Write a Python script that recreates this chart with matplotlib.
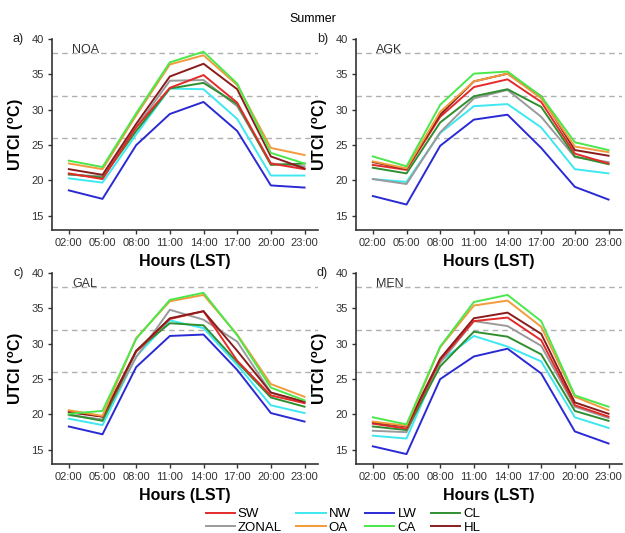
import numpy as np
import matplotlib
matplotlib.use('Agg')
import matplotlib.pyplot as plt
from matplotlib.lines import Line2D

plt.rcParams['font.family'] = ['Liberation Sans', 'DejaVu Sans']
plt.rcParams['mathtext.default'] = 'regular'

hours = ['02:00', '05:00', '08:00', '11:00', '14:00', '17:00', '20:00', '23:00']
classes = ['SW', 'NW', 'LW', 'CL', 'ZONAL', 'OA', 'CA', 'HL']
colors = {'SW': '#e52a2a', 'NW': '#3ee8f0', 'LW': '#2a2ad4', 'CL': '#2f8f2f',
          'ZONAL': '#9a9a9a', 'OA': '#f39a3c', 'CA': '#4ae84a', 'HL': '#8b1c1c'}

# UTCI values, one dict per station
noa = {
    'SW':    [21.0, 20.2, 27.5, 33.1, 34.9, 31.0, 22.4, 21.6],
    'NW':    [20.3, 19.7, 26.5, 33.0, 32.9, 28.7, 20.7, 20.7],
    'LW':    [18.6, 17.4, 25.0, 29.4, 31.1, 27.0, 19.3, 19.0],
    'CL':    [20.9, 20.4, 27.0, 33.0, 33.8, 30.8, 22.2, 22.4],
    'ZONAL': [20.8, 20.6, 27.5, 34.1, 34.2, 30.5, 22.4, 22.0],
    'OA':    [22.4, 21.6, 29.2, 36.4, 37.7, 33.5, 24.6, 23.6],
    'CA':    [22.8, 21.9, 29.5, 36.7, 38.2, 33.7, 23.9, 22.4],
    'HL':    [21.6, 20.8, 28.0, 34.7, 36.5, 32.9, 23.4, 21.7],
}
agk = {
    'SW':    [22.2, 21.5, 29.0, 33.2, 34.3, 31.1, 23.8, 22.4],
    'NW':    [20.2, 19.8, 26.7, 30.5, 30.8, 27.5, 21.6, 21.0],
    'LW':    [17.8, 16.6, 24.9, 28.6, 29.3, 24.6, 19.1, 17.3],
    'CL':    [21.8, 21.0, 28.2, 31.9, 32.9, 30.4, 23.4, 22.3],
    'ZONAL': [20.2, 19.5, 26.8, 31.6, 32.8, 29.0, 23.3, 22.6],
    'OA':    [22.7, 21.7, 29.7, 34.0, 35.1, 31.6, 24.8, 24.0],
    'CA':    [23.4, 22.0, 30.7, 35.1, 35.4, 31.9, 25.4, 24.3],
    'HL':    [22.6, 21.6, 29.3, 34.0, 35.1, 31.9, 24.3, 23.5],
}
gal = {
    'SW':    [20.5, 19.7, 28.9, 33.5, 34.6, 27.6, 22.7, 21.6],
    'NW':    [19.4, 18.5, 28.2, 33.3, 32.2, 27.0, 21.3, 20.2],
    'LW':    [18.3, 17.2, 26.7, 31.1, 31.3, 26.3, 20.2, 19.0],
    'CL':    [20.0, 19.1, 29.0, 32.9, 32.6, 27.4, 22.4, 21.1],
    'ZONAL': [19.9, 19.3, 28.1, 34.8, 33.4, 30.3, 23.1, 21.7],
    'OA':    [20.6, 19.8, 30.8, 36.0, 36.9, 31.3, 24.3, 22.5],
    'CA':    [20.1, 20.5, 30.7, 36.2, 37.2, 31.2, 23.8, 22.0],
    'HL':    [20.3, 19.7, 29.0, 33.6, 34.6, 29.0, 23.1, 21.8],
}
men = {
    'SW':    [18.7, 18.0, 27.7, 33.2, 33.7, 30.5, 21.3, 19.7],
    'NW':    [17.0, 16.6, 27.5, 31.1, 29.6, 27.5, 19.6, 18.1],
    'LW':    [15.5, 14.4, 25.0, 28.2, 29.3, 25.8, 17.6, 15.9],
    'CL':    [18.3, 17.8, 26.8, 31.7, 31.0, 28.5, 20.5, 19.1],
    'ZONAL': [17.7, 17.5, 27.3, 33.2, 32.5, 29.7, 21.1, 19.5],
    'OA':    [19.0, 18.4, 29.5, 35.4, 36.1, 32.4, 22.5, 20.6],
    'CA':    [19.6, 18.6, 29.6, 35.9, 36.9, 33.2, 22.7, 21.1],
    'HL':    [18.9, 18.3, 27.9, 33.6, 34.4, 31.4, 21.7, 20.1],
}
stations = ['NOA', 'AGK', 'GAL', 'MEN']
panel_tags = ['a)', 'b)', 'c)', 'd)']
all_data = [noa, agk, gal, men]
thresholds = [26, 32, 38]

# draw order (back to front)
draw_order = ['LW', 'NW', 'ZONAL', 'CL', 'SW', 'HL', 'OA', 'CA']

fig = plt.figure(figsize=(6.25, 5.33), dpi=100)
W, H = 625.0, 533.0
boxes = [(52, 39), (356, 39), (52, 273), (356, 273)]  # left, top in px
aw, ah = 266, 191

x = np.arange(len(hours))
for (lpx, tpx), name, tag, data in zip(boxes, stations, panel_tags, all_data):
    ax = fig.add_axes([lpx / W, 1 - (tpx + ah) / H, aw / W, ah / H])
    for t in thresholds:
        ax.axhline(t, color='#b0b0b0', ls=(0, (4, 3)), lw=1.0, zorder=1)
    for c in draw_order:
        ax.plot(x, data[c], color=colors[c], lw=1.4, zorder=2)
    ax.set_xlim(-0.5, 7.4)
    ax.set_ylim(13, 40)
    ax.set_yticks([15, 20, 25, 30, 35, 40])
    ax.set_xticks(x)
    ax.set_xticklabels(hours)
    for s in ['top', 'right']:
        ax.spines[s].set_visible(False)
    for s in ['left', 'bottom']:
        ax.spines[s].set_color('#333333')
        ax.spines[s].set_linewidth(1.2)
    ax.tick_params(labelsize=8, colors='#333333', length=3, width=1, pad=3)
    ax.set_xlabel('Hours (LST)', fontsize=11.5, fontweight='bold', labelpad=4)
    ax.set_ylabel('UTCI ($^{o}$C)', fontsize=11.5, fontweight='bold', labelpad=4)
    ax.text(0.075, 0.975, name, transform=ax.transAxes, fontsize=9, color='#333333',
            va='top', ha='left')
    ax.text(-0.105, 1.0, tag, transform=ax.transAxes, fontsize=9, color='#222222',
            va='center', ha='right')

fig.text(313 / W, 1 - 19 / H, 'Summer', ha='center', va='center', fontsize=9)

leg_order = ['SW', 'ZONAL', 'NW', 'OA', 'LW', 'CA', 'CL', 'HL']
handles = [Line2D([0], [0], color=colors[c], lw=1.4) for c in leg_order]
fig.legend(handles, leg_order, ncol=4, loc='center', bbox_to_anchor=(343 / W, 1 - 521 / H),
           frameon=False, fontsize=9.5, handlelength=2.2, handletextpad=0.25,
           columnspacing=1.1, labelspacing=0.1, borderpad=0)

fig.savefig('out.png', dpi=100)
